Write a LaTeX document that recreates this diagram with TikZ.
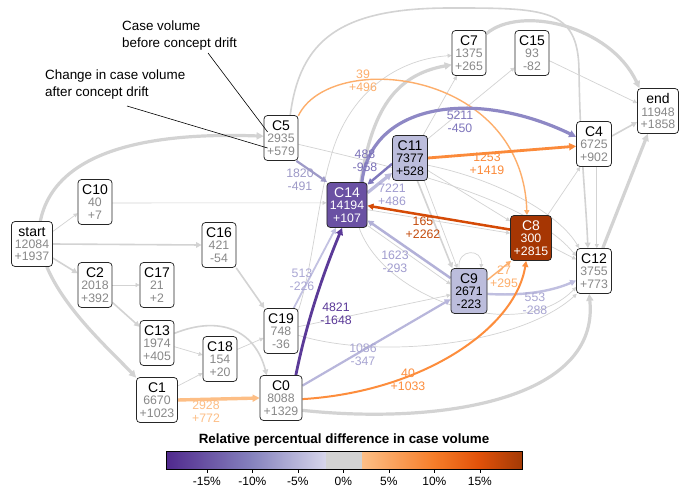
\documentclass[tikz,border=0pt]{standalone}
\usepackage{fontspec}
\setmainfont{Liberation Sans}
\usetikzlibrary{arrows.meta}
\definecolor{eg}{HTML}{D3D3D3}
\definecolor{numgray}{HTML}{888888}
\definecolor{pdark}{HTML}{6A51A3}
\definecolor{plight}{HTML}{BCBDDC}
\definecolor{obrown}{HTML}{A63603}
\definecolor{c1820}{HTML}{9E9AC8}
\definecolor{c488}{HTML}{7F78BC}
\definecolor{c7221}{HTML}{BCBBDD}
\definecolor{c5211}{HTML}{8E88C5}
\definecolor{c1623}{HTML}{B3B1D8}
\definecolor{c513}{HTML}{C3C2E2}
\definecolor{c4821}{HTML}{5B3A98}
\definecolor{c1086}{HTML}{B8B6DB}
\definecolor{c553}{HTML}{C0BFE0}
\definecolor{c39}{HTML}{FDAE6B}
\definecolor{c1253}{HTML}{FB8A3A}
\definecolor{c165}{HTML}{D54A06}
\definecolor{c27}{HTML}{FDAE6B}
\definecolor{c40}{HTML}{FD8D3C}
\definecolor{c2928}{HTML}{FDBE85}
\definecolor{l1820}{HTML}{9E9AC8}
\definecolor{l488}{HTML}{7B71B8}
\definecolor{l7221}{HTML}{A09CD0}
\definecolor{l5211}{HTML}{7E75BC}
\definecolor{l1623}{HTML}{A19DCF}
\definecolor{l513}{HTML}{AAA7D4}
\definecolor{l4821}{HTML}{5B3A98}
\definecolor{l1086}{HTML}{A8A5D2}
\definecolor{l553}{HTML}{A8A5D2}
\definecolor{l165}{HTML}{C44B0C}
\definecolor{cbA}{HTML}{50298D}
\definecolor{cbB}{HTML}{8683BE}
\definecolor{cbC}{HTML}{D7D6EB}
\definecolor{cbD}{HTML}{FDBF86}
\definecolor{cbE}{HTML}{F67D29}
\definecolor{cbF}{HTML}{E2520A}
\definecolor{cbG}{HTML}{A33A06}
\newcommand{\nv}[1]{\textcolor{numgray}{#1}}
\newcommand{\nm}[1]{{\fontsize{14}{12.2}\selectfont #1}}
\pgfdeclarelayer{bg}
\pgfsetlayers{bg,main}
\tikzset{
  pn/.style={draw=black!85, rounded corners=3.5pt, line width=0.75pt, fill=white,
    minimum width=34pt, minimum height=45pt, inner xsep=3pt, inner ysep=0pt,
    align=center, font=\fontsize{12.3}{12.2}\selectfont},
  gt/.style={draw=eg, line width=0.7pt, -{Triangle[length=4pt,width=4pt]}},
  gm/.style={draw=eg, line width=1.6pt, -{Triangle[length=5.5pt,width=5.5pt]}},
  gk/.style={draw=eg, line width=3.2pt, -{Triangle[length=7pt,width=7pt]}},
  ce/.style n args={3}{draw=#1, line width=#2, -{Triangle[length=#3,width=#3]}},
  lb/.style={font=\fontsize{12.3}{13}\selectfont, align=center, inner sep=0pt},
  ann/.style={font=\fontsize{13.4}{16.5}\selectfont, align=left, inner sep=0pt},
}
\begin{document}
\begin{tikzpicture}[x=1pt,y=-1pt]
\useasboundingbox (0,0) rectangle (686,487);

% nodes
\node[pn, minimum width=41pt] (start) at (32,244) {\nm{start}\\\nv{12084}\\\nv{+1937}};
\node[pn] (C10) at (95,202) {\nm{C10}\\\nv{40}\\\nv{+7}};
\node[pn] (C16) at (219,245) {\nm{C16}\\\nv{421}\\\nv{-54}};
\node[pn] (C2) at (95,285) {\nm{C2}\\\nv{2018}\\\nv{+392}};
\node[pn] (C17) at (157,285) {\nm{C17}\\\nv{21}\\\nv{+2}};
\node[pn] (C13) at (157,343) {\nm{C13}\\\nv{1974}\\\nv{+405}};
\node[pn] (C18) at (220,359) {\nm{C18}\\\nv{154}\\\nv{+20}};
\node[pn, minimum width=41pt] (C1) at (157,400) {\nm{C1}\\\nv{6670}\\\nv{+1023}};
\node[pn] (C19) at (281,331) {\nm{C19}\\\nv{748}\\\nv{-36}};
\node[pn, minimum width=42pt] (C0) at (281,398) {\nm{C0}\\\nv{8088}\\\nv{+1329}};
\node[pn] (C5) at (281,138) {\nm{C5}\\\nv{2935}\\\nv{+579}};
\node[pn, fill=pdark, text=white, minimum width=40pt] (C14) at (347,205) {\nm{C14}\\14194\\+107};
\node[pn, fill=plight, minimum width=35pt] (C11) at (410,158) {\nm{C11}\\7377\\+528};
\node[pn] (C7) at (469,53) {\nm{C7}\\\nv{1375}\\\nv{+265}};
\node[pn] (C15) at (532,53) {\nm{C15}\\\nv{93}\\\nv{-82}};
\node[pn, minimum width=35pt] (C4) at (594,144) {\nm{C4}\\\nv{6725}\\\nv{+902}};
\node[pn, minimum width=41pt] (end) at (658,111) {\nm{end}\\\nv{11948}\\\nv{+1858}};
\node[pn, fill=obrown, text=white, minimum width=41pt] (C8) at (531,238) {\nm{C8}\\300\\+2815};
\node[pn, fill=plight, minimum width=36pt] (C9) at (469,291) {\nm{C9}\\2671\\-223};
\node[pn, minimum width=35pt] (C12) at (594,271) {\nm{C12}\\\nv{3755}\\\nv{+773}};

\begin{pgfonlayer}{bg}
\fill[white] (0,0) rectangle (686,487);
% gray edges
\draw[gk] (start.70) .. controls (55,150) and (150,132) .. (C5.174);
\draw[gt] (start.31) -- (C10.213);
\draw[gm] (start.0) -- (C16.180);
\draw[gm] (start.-34) -- (C2.146);
\draw[gk] (start.-57) .. controls (65,310) and (110,350) .. (C1.133);
\draw[gt] (C10.-3) -- (C14.174);
\draw[gm] (C16.-53) -- (C19.126);
\draw[gt] (C2.0) -- (C17.180);
\draw[gm] (C2.-45) -- (C13.137);
\draw[gt] (C13.-12) -- (C18.167);
\draw[gm] (C13.29) .. controls (220,315) and (255,330) .. (C0.122);
\draw[gt] (C1.34) -- (C18.219);
\draw[gt] (C18.29) -- (C19.202);
\draw[gk] (C0.-30) .. controls (440,425) and (600,400) .. (C12.258);
\draw[gk] (C12.69) -- (end.246);
\draw[gm] (C4.24) -- (end.208);
\draw[gk] (C7.48) .. controls (520,5) and (610,25) .. (end.129);
\draw[gt] (C15.-24) -- (end.159);
\draw[gk] (C14.59) .. controls (372,110) and (395,75) .. (C7.214);
\draw[gt] (C11.47) -- (C15.220);
\draw[gt] (C11.60) -- (C7.242);
\draw[gt] (C19.50) .. controls (312,270) and (318,200) .. (330,160)
   .. controls (345,100) and (390,60) .. (C7.188);
\draw[gm] (C5.68) .. controls (300,40) and (340,8) .. (450,8)
   .. controls (545,8) and (578,8) .. (579,70)
   .. controls (580,150) and (586,200) .. (C12.105);
\draw[gt] (C5.-20) .. controls (400,168) and (530,200) .. (C12.140);
\draw[gm] (C11.-72) -- (C9.126);
\draw[gt] (C11.-58) -- (C9.117);
\draw[gt] ([xshift=-10pt]C9.north) .. controls +(-2,-20) and +(2,-20) .. ([xshift=12pt]C9.north);
\draw[gt] (C14.-13) -- (C8.167);
\draw[gt] (C14.-45) -- (C9.160);
\draw[gt] (C14.-62) .. controls (385,300) and (520,345) .. (C12.222);
\draw[gt] (C11.-35) -- (C8.141);
\draw[gt] (C11.-22) .. controls (500,180) and (560,215) .. (C12.123);
\draw[gt] (C8.-23) -- (C12.147);
\draw[gt] (C8.54) -- (C4.239);
\draw[gt] (C4.-83) -- (C12.83);
\draw[gt] (C19.14) -- (C9.192);
\draw[gt] (C19.-14) .. controls (380,360) and (520,345) .. (C12.233);
% coloured edges
\draw[ce={c1820}{2.2pt}{6pt}] (C5.-56) -- (C14.131);
\draw[ce={c39}{1.4pt}{5pt}] (C5.52) .. controls (330,50) and (522,68) .. (C8.100);
\draw[ce={c5211}{3.2pt}{7pt}] (C14.57) .. controls (372,100) and (480,90) .. (C4.158);
\draw[ce={c488}{2.4pt}{6pt}] (C11.198) -- (C14.45);
\draw[ce={c7221}{3.2pt}{7pt}] (C14.31) -- (C11.220);
\draw[ce={c1253}{2.8pt}{7pt}] (C11.0) -- (C4.187);
\draw[ce={c165}{2.5pt}{6pt}] (C8.158) -- (C14.-2);
\draw[ce={c1623}{2.5pt}{6pt}] (C9.145) -- (C14.-37);
\draw[ce={c27}{1.4pt}{5pt}] (C9.31) -- (C8.229);
\draw[ce={c553}{2.4pt}{6pt}] (C9.-9) .. controls (520,296) and (550,292) .. (C12.208);
\draw[ce={c513}{1.8pt}{5.5pt}] (C19.61) -- (C14.244);
\draw[ce={c4821}{2.8pt}{7pt}] (C0.57) .. controls (306,325) and (322,276) .. (C14.258);
\draw[ce={c1086}{2.2pt}{6pt}] (C0.30) -- (C9.204);
\draw[ce={c40}{2pt}{6pt}] (C0.-3) .. controls (420,392) and (515,330) .. (C8.258);
\draw[ce={c2928}{3.4pt}{7pt}] (C1.0) -- (C0.180);
\end{pgfonlayer}

% edge labels
\node[lb, text=l1820] (L1820) at (300,180) {1820\\-491};
\node[lb, text=c39] (L39) at (363,81) {39\\+496};
\node[lb, text=l5211] (L5211) at (460,122) {5211\\-450};
\node[lb, text=l488] (L488) at (365,161) {488\\-958};
\node[lb, text=l7221] (L7221) at (392,195) {7221\\+486};
\node[lb, text=c1253] (L1253) at (487,164) {1253\\+1419};
\node[lb, text=l165] (L165) at (423,228) {165\\+2262};
\node[lb, text=l1623] (L1623) at (395,262) {1623\\-293};
\node[lb, text=c27] (L27) at (504,277) {27\\+295};
\node[lb, text=l553] (L553) at (535,304) {553\\-288};
\node[lb, text=l513] (L513) at (302,280) {513\\-226};
\node[lb, text=l4821] (L4821) at (336,314) {4821\\-1648};
\node[lb, text=l1086] (L1086) at (363,355) {1086\\-347};
\node[lb, text=c40] (L40) at (408,380) {40\\+1033};
\node[lb, text=c2928] (L2928) at (206,412) {2928\\+772};

% annotations
\node[ann, anchor=north west] (T1) at (122,21) {Case volume\\before concept drift};
\node[ann, anchor=north west] (T2) at (45,70) {Change in case volume\\after concept drift};
\coordinate (A1) at (208,53);
\coordinate (A2) at (127,106);
\draw[black, line width=0.6pt] (A1) -- ([xshift=4pt,yshift=6pt]C5.west);
\draw[black, line width=0.6pt] (A2) -- ([xshift=4pt,yshift=-10pt]C5.west);

% colour bar
\node[font=\bfseries\fontsize{13.4}{13}\selectfont, inner sep=0pt] (CBT) at (344,440) {Relative percentual difference in case volume};
\shade[left color=cbA, right color=cbB] (166,451) rectangle (252.4,469);
\shade[left color=cbB, right color=cbC] (252.4,451) rectangle (326,469);
\fill[eg] (326,451) rectangle (362,469);
\shade[left color=cbD, right color=cbE] (362,451) rectangle (434.4,469);
\shade[left color=cbE, right color=cbF] (434.4,451) rectangle (478,469);
\shade[left color=cbF, right color=cbG] (478,451) rectangle (522,469);
\draw[black, line width=0.8pt] (166,451) rectangle (522,469);
\foreach \v/\t in {-15/-15\%,-10/-10\%,-5/-5\%,0/0\%,5/5\%,10/10\%,15/15\%}{
  \draw[black, line width=0.6pt] ({343.4+9.1*\v},469) -- ({343.4+9.1*\v},472.5);
  \node[font=\fontsize{12}{12}\selectfont, inner sep=0pt] (tick\v) at ({343.4+9.1*\v},481) {\t};
}
\end{tikzpicture}
\end{document}
